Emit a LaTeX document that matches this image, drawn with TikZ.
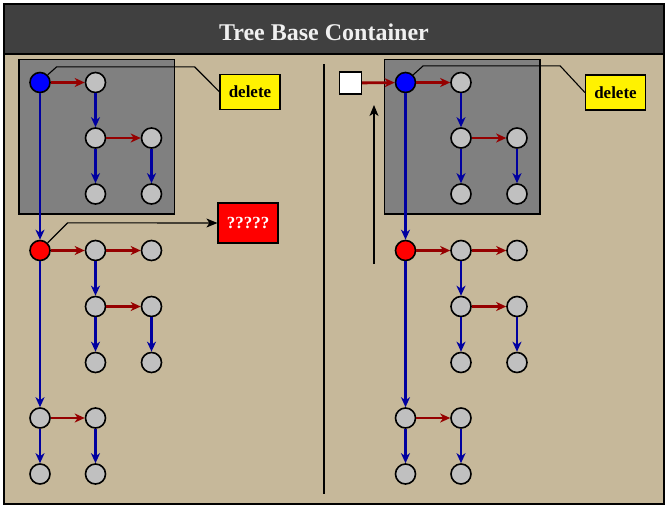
\documentclass[tikz,border=0pt]{standalone}
\usepackage{fontspec}
\setmainfont{Liberation Serif}
\usetikzlibrary{arrows.meta}
\definecolor{paneltan}{RGB}{198,184,154}
\definecolor{titlegray}{RGB}{64,64,64}
\definecolor{boxgray}{RGB}{128,128,128}
\definecolor{knotgray}{RGB}{192,192,192}
\definecolor{nextred}{RGB}{150,0,0}
\definecolor{childblue}{RGB}{0,0,160}
\begin{document}
\begin{tikzpicture}
	[x=1pt,y=-1pt,
	 knot/.style={circle,draw=black,line width=1.6pt,fill=knotgray,minimum size=20pt,inner sep=0pt},
	 nextarrow/.style={draw=nextred,line width=2.8pt,-{Stealth[length=10pt,width=9pt,inset=3pt]}},
	 childarrow/.style={draw=childblue,line width=2.8pt,-{Stealth[length=10pt,width=9pt,inset=3pt]}},
	 pointer/.style={draw=black,line width=1.1pt},
	 notebox/.style={draw=black,line width=1.2pt,minimum width=60pt,inner sep=0pt,font=\fontsize{17}{20}\selectfont\bfseries}]
\useasboundingbox (0,0) rectangle (669,509);
% frame and title
\draw[fill=paneltan,line width=1.8pt] (4,4) rectangle (664,504);
\draw[fill=titlegray,line width=1.8pt] (4,4) rectangle (664,54);
\node[anchor=base,text={rgb,255:red,240;green,240;blue,240},font=\fontsize{24}{28}\selectfont\bfseries] (title) at (324,40) {Tree Base Container};
% the two trees, before and after
\foreach \s/\dx in {l/0,r/365.5}{
\begin{scope}[xshift=\dx]
\draw[fill=boxgray,line width=1.2pt] (19,59.5) rectangle (174.5,214);
\node[knot,fill=blue] (\s-a) at (40,82.5) {};
\node[knot] (\s-b) at (95.5,82.5) {};
\node[knot] (\s-c) at (95.5,138) {};
\node[knot] (\s-d) at (151.5,138) {};
\node[knot] (\s-e) at (95.5,194) {};
\node[knot] (\s-f) at (151.5,194) {};
\node[knot,fill=red] (\s-g) at (40,250.5) {};
\node[knot] (\s-h) at (95.5,250.5) {};
\node[knot] (\s-i) at (151.5,250.5) {};
\node[knot] (\s-j) at (95.5,306.5) {};
\node[knot] (\s-k) at (151.5,306.5) {};
\node[knot] (\s-l) at (95.5,362.5) {};
\node[knot] (\s-m) at (151.5,362.5) {};
\node[knot] (\s-n) at (40,418) {};
\node[knot] (\s-o) at (95.5,418) {};
\node[knot] (\s-p) at (40,474) {};
\node[knot] (\s-q) at (95.5,474) {};
\foreach \u/\v in {a/b,c/d,g/h,h/i,j/k,n/o}
\draw[nextarrow] (\s-\u) -- (\s-\v);
\foreach \u/\v in {a/g,b/c,c/e,d/f,g/n,h/j,j/l,k/m,n/p,o/q}
\draw[childarrow] (\s-\u) -- (\s-\v);
\end{scope}
}
% left notes
\node[notebox,fill=yellow,minimum height=35pt] (l-del) at (250,91.7) {delete};
\draw[pointer] (l-a.north east) -- ++(9,-8) -- ++(138,0) -- (l-del.west);
\node[notebox,fill=red,text=white,minimum height=40pt] (l-err) at (248,223) {?????};
\draw[pointer,-{Stealth[length=11pt,width=9pt,inset=3pt]}] (l-g.north east) -- ++(20,-20) -- (l-err.west);
% divider
\coordinate (sep-top) at (324,64);
\coordinate (sep-bot) at (324,494);
\draw[line width=1.4pt] (sep-top) -- (sep-bot);
% right notes
\node[draw=black,fill=white,line width=1.2pt,minimum size=22pt,inner sep=0pt] (r-head) at (350.5,83) {};
\draw[nextarrow] (r-head) -- (r-a);
\coordinate (up-from) at (374,264);
\coordinate (up-to) at (374,105);
\draw[line width=1.3pt,-{Stealth[length=11pt,width=9pt,inset=3pt]}] (up-from) -- (up-to);
\node[notebox,fill=yellow,minimum height=35pt] (r-del) at (615.5,92.5) {delete};
\draw[pointer] (r-a.north east) -- ++(10,-9) -- ++(137,0) -- (r-del.west);
\end{tikzpicture}
\end{document}
